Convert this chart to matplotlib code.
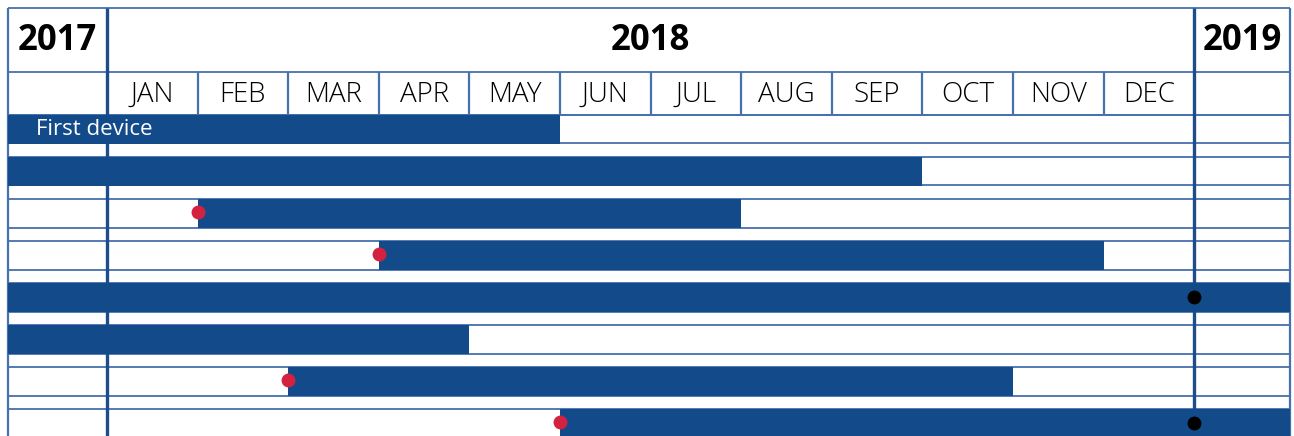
import matplotlib
matplotlib.use("Agg")
import matplotlib.pyplot as plt

# ---------------- data ----------------
years = ["2017", "2018", "2019"]
months = ["JAN", "FEB", "MAR", "APR", "MAY", "JUN",
          "JUL", "AUG", "SEP", "OCT", "NOV", "DEC"]
row_labels = ["First device", "", "", "", "", "", "", ""]
# start / end of each bar: '2017' = from before 2018, '2019' = into 2019
bar_start = ["2017", "2017", "FEB", "APR", "2017", "2017", "MAR", "JUN"]
bar_end = ["MAY", "SEP", "JUL", "NOV", "2019", "APR", "OCT", "2019"]
red_dot_rows = [2, 3, 6, 7]      # marker at bar start
black_dot_rows = [4, 7]          # marker at start of 2019

# ---------------- layout ----------------
PX = 90.6                        # pixels per month
X0 = 107                         # pixel of JAN 2018 start
def px2m(p):
    return (p - X0) / PX

LEFT = px2m(8)
RIGHT = px2m(1290)

def start_x(lbl):
    if lbl == "2017":
        return LEFT
    return months.index(lbl)

def end_x(lbl):
    if lbl == "2019":
        return RIGHT
    return months.index(lbl) + 1

BAR_C = "#134b8a"
LINE_C = "#4571ad"
THICK_C = "#1d4d8c"
RED = "#d4213f"

fig = plt.figure(figsize=(12.94, 4.36), dpi=100)
ax = fig.add_axes([0, 0, 1, 1])
ax.set_xlim(px2m(0), px2m(1294))
ax.set_ylim(436, 0)
ax.axis("off")

ROW0, PERIOD, BAR_H = 115, 42, 28.5
FONT = "Open Sans"

# horizontal grid lines
hy = [8, 72, 115]
for i in range(len(bar_start)):
    top = ROW0 + PERIOD * i
    hy += [top, top + BAR_H]
ax.hlines(hy, LEFT, RIGHT, color=LINE_C, lw=1.3, zorder=1)

# month dividers in header
ax.vlines(range(1, 12), 72, 115, color=LINE_C, lw=1.6, zorder=1)
# borders
ax.vlines([LEFT, RIGHT], 8, 436, color=LINE_C, lw=1.6, zorder=1)
# year separators
ax.vlines([0, 12], 8, 436, color=THICK_C, lw=2.4, zorder=1)

# bars
for i, (s, e) in enumerate(zip(bar_start, bar_end)):
    yc = ROW0 + PERIOD * i + BAR_H / 2
    xs, xe = start_x(s), end_x(e)
    ax.barh(yc, xe - xs, left=xs, height=BAR_H, color=BAR_C, zorder=2)
    if row_labels[i]:
        ax.text(px2m(36), yc, row_labels[i], color="white", fontsize=16,
                family=FONT, va="center", ha="left", zorder=4)
    if i in red_dot_rows:
        ax.plot(xs, yc - 1, "o", color=RED, ms=10, mew=0, zorder=3)
    if i in black_dot_rows:
        ax.plot(12, yc, "o", color="black", ms=10, mew=0, zorder=3)

# header text
ax.text((LEFT + 0) / 2, 41, years[0], fontsize=25, fontweight="bold",
        family=FONT, ha="center", va="center", zorder=4)
ax.text(6, 41, years[1], fontsize=25, fontweight="bold",
        family=FONT, ha="center", va="center", zorder=4)
ax.text((12 + RIGHT) / 2, 41, years[2], fontsize=25, fontweight="bold",
        family=FONT, ha="center", va="center", zorder=4)
for i, m in enumerate(months):
    ax.text(i + 0.5, 95, m, fontsize=20, family=FONT, fontweight="light",
            ha="center", va="center", zorder=4)

fig.savefig("out.png", dpi=100, facecolor="white")
